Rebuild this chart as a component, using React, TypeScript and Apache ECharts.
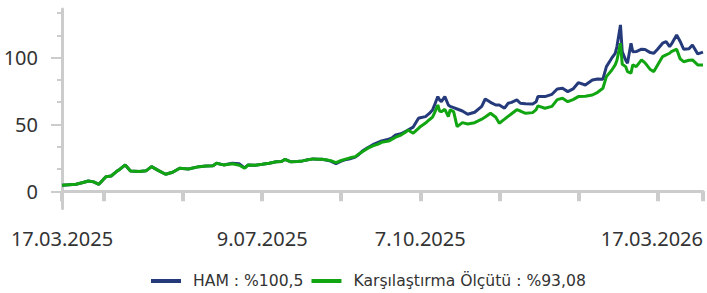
import React, { useEffect, useRef } from "react";
import * as echarts from "echarts";

const dates = [
  "2025-03-17","2025-03-19","2025-03-25","2025-03-29","2025-04-01","2025-04-04","2025-04-07","2025-04-11","2025-04-14","2025-04-17",
  "2025-04-19","2025-04-22","2025-04-25","2025-04-30","2025-05-04","2025-05-07","2025-05-11","2025-05-15","2025-05-19","2025-05-23",
  "2025-05-28","2025-06-03","2025-06-07","2025-06-11","2025-06-13","2025-06-17","2025-06-22","2025-06-26","2025-06-29","2025-07-01",
  "2025-07-05","2025-07-09","2025-07-13","2025-07-17","2025-07-20","2025-07-22","2025-07-25","2025-07-29","2025-08-01","2025-08-04",
  "2025-08-07","2025-08-10","2025-08-12","2025-08-15","2025-08-17","2025-08-20","2025-08-23","2025-08-26","2025-08-28","2025-08-31",
  "2025-09-02","2025-09-04","2025-09-07","2025-09-10","2025-09-13","2025-09-15","2025-09-19","2025-09-21","2025-09-23","2025-09-26",
  "2025-09-29","2025-09-30","2025-10-03","2025-10-06","2025-10-07","2025-10-10","2025-10-12","2025-10-14","2025-10-15","2025-10-17",
  "2025-10-18","2025-10-19","2025-10-21","2025-10-23","2025-10-24","2025-10-26","2025-10-28","2025-10-31","2025-11-03","2025-11-07",
  "2025-11-11","2025-11-13","2025-11-16","2025-11-19","2025-11-21","2025-11-24","2025-11-26","2025-11-28","2025-12-01","2025-12-03",
  "2025-12-06","2025-12-10","2025-12-12","2025-12-13","2025-12-17","2025-12-21","2025-12-24","2025-12-27","2025-12-30","2026-01-02",
  "2026-01-05","2026-01-09","2026-01-13","2026-01-16","2026-01-19","2026-01-21","2026-01-24","2026-01-26","2026-01-27","2026-01-29",
  "2026-01-30","2026-02-01","2026-02-02","2026-02-04","2026-02-05","2026-02-07","2026-02-10","2026-02-12","2026-02-15","2026-02-17",
  "2026-02-19","2026-02-22","2026-02-24","2026-02-26","2026-02-27","2026-03-02","2026-03-04","2026-03-06","2026-03-09","2026-03-11",
  "2026-03-14","2026-03-17"
];

const hamValues = [
  4.5,4.7,5.2,6.5,7.7,7.0,5.2,10.9,11.4,14.7,
  16.5,19.7,15.2,14.7,15.4,18.4,15.4,12.7,14.2,17.2,
  16.7,18.4,18.8,19.1,20.9,19.7,20.9,20.5,17.5,19.7,
  19.5,20.2,21.0,22.1,22.3,23.9,22.1,22.3,22.7,23.5,
  24.2,24.0,23.9,23.2,22.5,20.6,22.5,23.8,24.3,25.5,
  27.5,30.0,32.5,34.8,36.5,37.6,38.9,40.0,42.1,43.0,
  45.0,45.8,48.0,54.6,55.0,55.8,58.0,60.8,64.0,70.8,
  68.3,67.0,70.8,64.5,63.5,62.5,61.5,60.0,57.6,59.1,
  63.5,69.0,66.5,64.5,64.5,62.1,65.8,66.5,68.3,65.8,
  65.5,65.3,67.0,70.8,70.8,72.5,76.5,77.0,74.5,76.5,
  81.2,79.5,83.2,84.0,83.8,93.2,99.5,103.2,108.2,124.4,
  104.4,98.0,95.7,110.7,104.4,104.5,106.2,106.0,103.7,103.2,
  106.0,110.7,111.9,108.2,110.0,116.9,112.0,106.2,106.5,109.4,
  102.7,104.0
];

const benchValues = [
  4.5,4.7,5.2,6.5,7.7,7.0,5.2,10.9,11.4,14.7,
  16.5,19.7,15.2,14.7,15.4,18.4,15.4,12.7,14.2,17.2,
  16.7,18.4,18.8,19.1,20.9,19.7,20.5,19.5,17.2,19.7,
  19.5,20.2,21.0,22.1,22.3,23.9,22.1,22.3,22.7,23.5,
  24.2,24.0,23.9,23.4,22.9,21.4,23.0,24.2,25.0,25.9,
  27.8,29.6,32.0,33.9,35.2,36.6,37.5,39.0,40.4,42.0,
  44.5,45.8,43.4,47.0,48.3,51.0,53.3,55.5,58.3,64.5,
  60.0,59.5,61.3,55.8,60.8,59.5,48.3,51.3,50.3,51.3,
  53.9,55.5,58.3,55.3,50.9,53.9,56.0,58.0,61.0,60.0,
  58.3,58.8,61.0,63.8,62.1,63.5,68.5,69.6,67.0,68.5,
  70.8,71.0,72.0,74.0,77.0,85.7,90.5,94.5,98.0,110.7,
  95.0,93.2,89.5,88.3,94.5,93.2,98.2,96.0,91.0,89.5,
  94.0,100.7,102.0,103.2,104.5,106.2,99.0,96.9,98.0,98.2,
  94.5,94.5
];

const xTickDates = [
  "2025-03-17","2025-04-10","2025-05-25","2025-07-09","2025-08-23",
  "2025-10-07","2025-11-21","2026-01-05","2026-02-19","2026-03-17"
];
const xLabelDates = ["2025-03-17","2025-07-09","2025-10-07","2026-03-17"];
const yLabelValues = [0, 50, 100];
const yMinorValues = [16.667, 33.333, 66.667, 83.333, 116.667, 133.333];

const seriesNames = ["HAM : %100,5", "Karşılaştırma Ölçütü : %93,08"];

function parse(s: string): number {
  const [y, m, d] = s.split("-").map(Number);
  return new Date(y, m - 1, d).getTime();
}

function fmt(v: number): string {
  const d = new Date(v);
  const mm = String(d.getMonth() + 1).padStart(2, "0");
  return `${d.getDate()}.${mm}.${d.getFullYear()}`;
}

export default function App() {
  const ref = useRef<HTMLDivElement>(null);
  useEffect(() => {
    if (!ref.current) return;
    const chart = echarts.init(ref.current, null, { renderer: "svg" });
    const font = "'Noto Sans', sans-serif";
    const axisGray = "#cccccc";
    chart.setOption({
      animation: false,
      grid: { left: 62, right: 4, top: 9, bottom: 84.5, containLabel: false, outerBoundsMode: "none" },
      legend: {
        left: 151,
        top: 273,
        padding: 0,
        icon: "rect",
        itemWidth: 30,
        itemHeight: 4,
        itemGap: 8,
        textStyle: { fontFamily: "'DejaVu Sans', sans-serif", fontSize: 15.6, color: "#333333", padding: [0, 0, 0, 7] },
        data: seriesNames,
      },
      xAxis: {
        type: "value",
        min: parse(dates[0]),
        max: parse(dates[dates.length - 1]),
        axisLine: { show: true, lineStyle: { color: axisGray, width: 3 } },
        axisTick: {
          show: true,
          length: 10,
          lineStyle: { color: axisGray, width: 4 },
          customValues: xTickDates.map(parse),
        },
        axisLabel: {
          customValues: xLabelDates.map(parse),
          formatter: (v: number) => fmt(v),
          fontFamily: font,
          fontSize: 20,
          color: "#333333",
          margin: 20,
          alignMaxLabel: "right",
        },
        splitLine: { show: false },
      },
      yAxis: [
        {
          type: "value",
          position: "left",
          min: -12.9,
          max: 136.3,
          axisLine: { show: true, lineStyle: { color: axisGray, width: 3 } },
          axisTick: {
            show: true,
            length: 11,
            lineStyle: { color: axisGray, width: 2 },
            customValues: yLabelValues,
          },
          axisLabel: {
            customValues: yLabelValues,
            fontFamily: font,
            fontSize: 20,
            color: "#333333",
            margin: 24,
          },
          splitLine: { show: false },
        },
        {
          type: "value",
          position: "left",
          offset: 0,
          min: -12.9,
          max: 136.3,
          axisLine: { show: false },
          axisTick: {
            show: true,
            length: 5,
            lineStyle: { color: axisGray, width: 2 },
            customValues: yMinorValues,
          },
          axisLabel: { show: false },
          splitLine: { show: false },
        },
      ],
      series: [
        {
          name: seriesNames[0],
          type: "line",
          yAxisIndex: 0,
          data: dates.map((d, i) => [parse(d), hamValues[i]]),
          showSymbol: false,
          symbol: "none",
          lineStyle: { color: "#253a7b", width: 3 },
          itemStyle: { color: "#253a7b" },
        },
        {
          name: seriesNames[1],
          type: "line",
          yAxisIndex: 0,
          data: dates.map((d, i) => [parse(d), benchValues[i]]),
          showSymbol: false,
          symbol: "none",
          lineStyle: { color: "#12a512", width: 3 },
          itemStyle: { color: "#12a512" },
        },
      ],
    });
    return () => chart.dispose();
  }, []);
  return <div ref={ref} style={{ width: 707, height: 293, position: "absolute", left: 0, top: 0 }} />;
}
